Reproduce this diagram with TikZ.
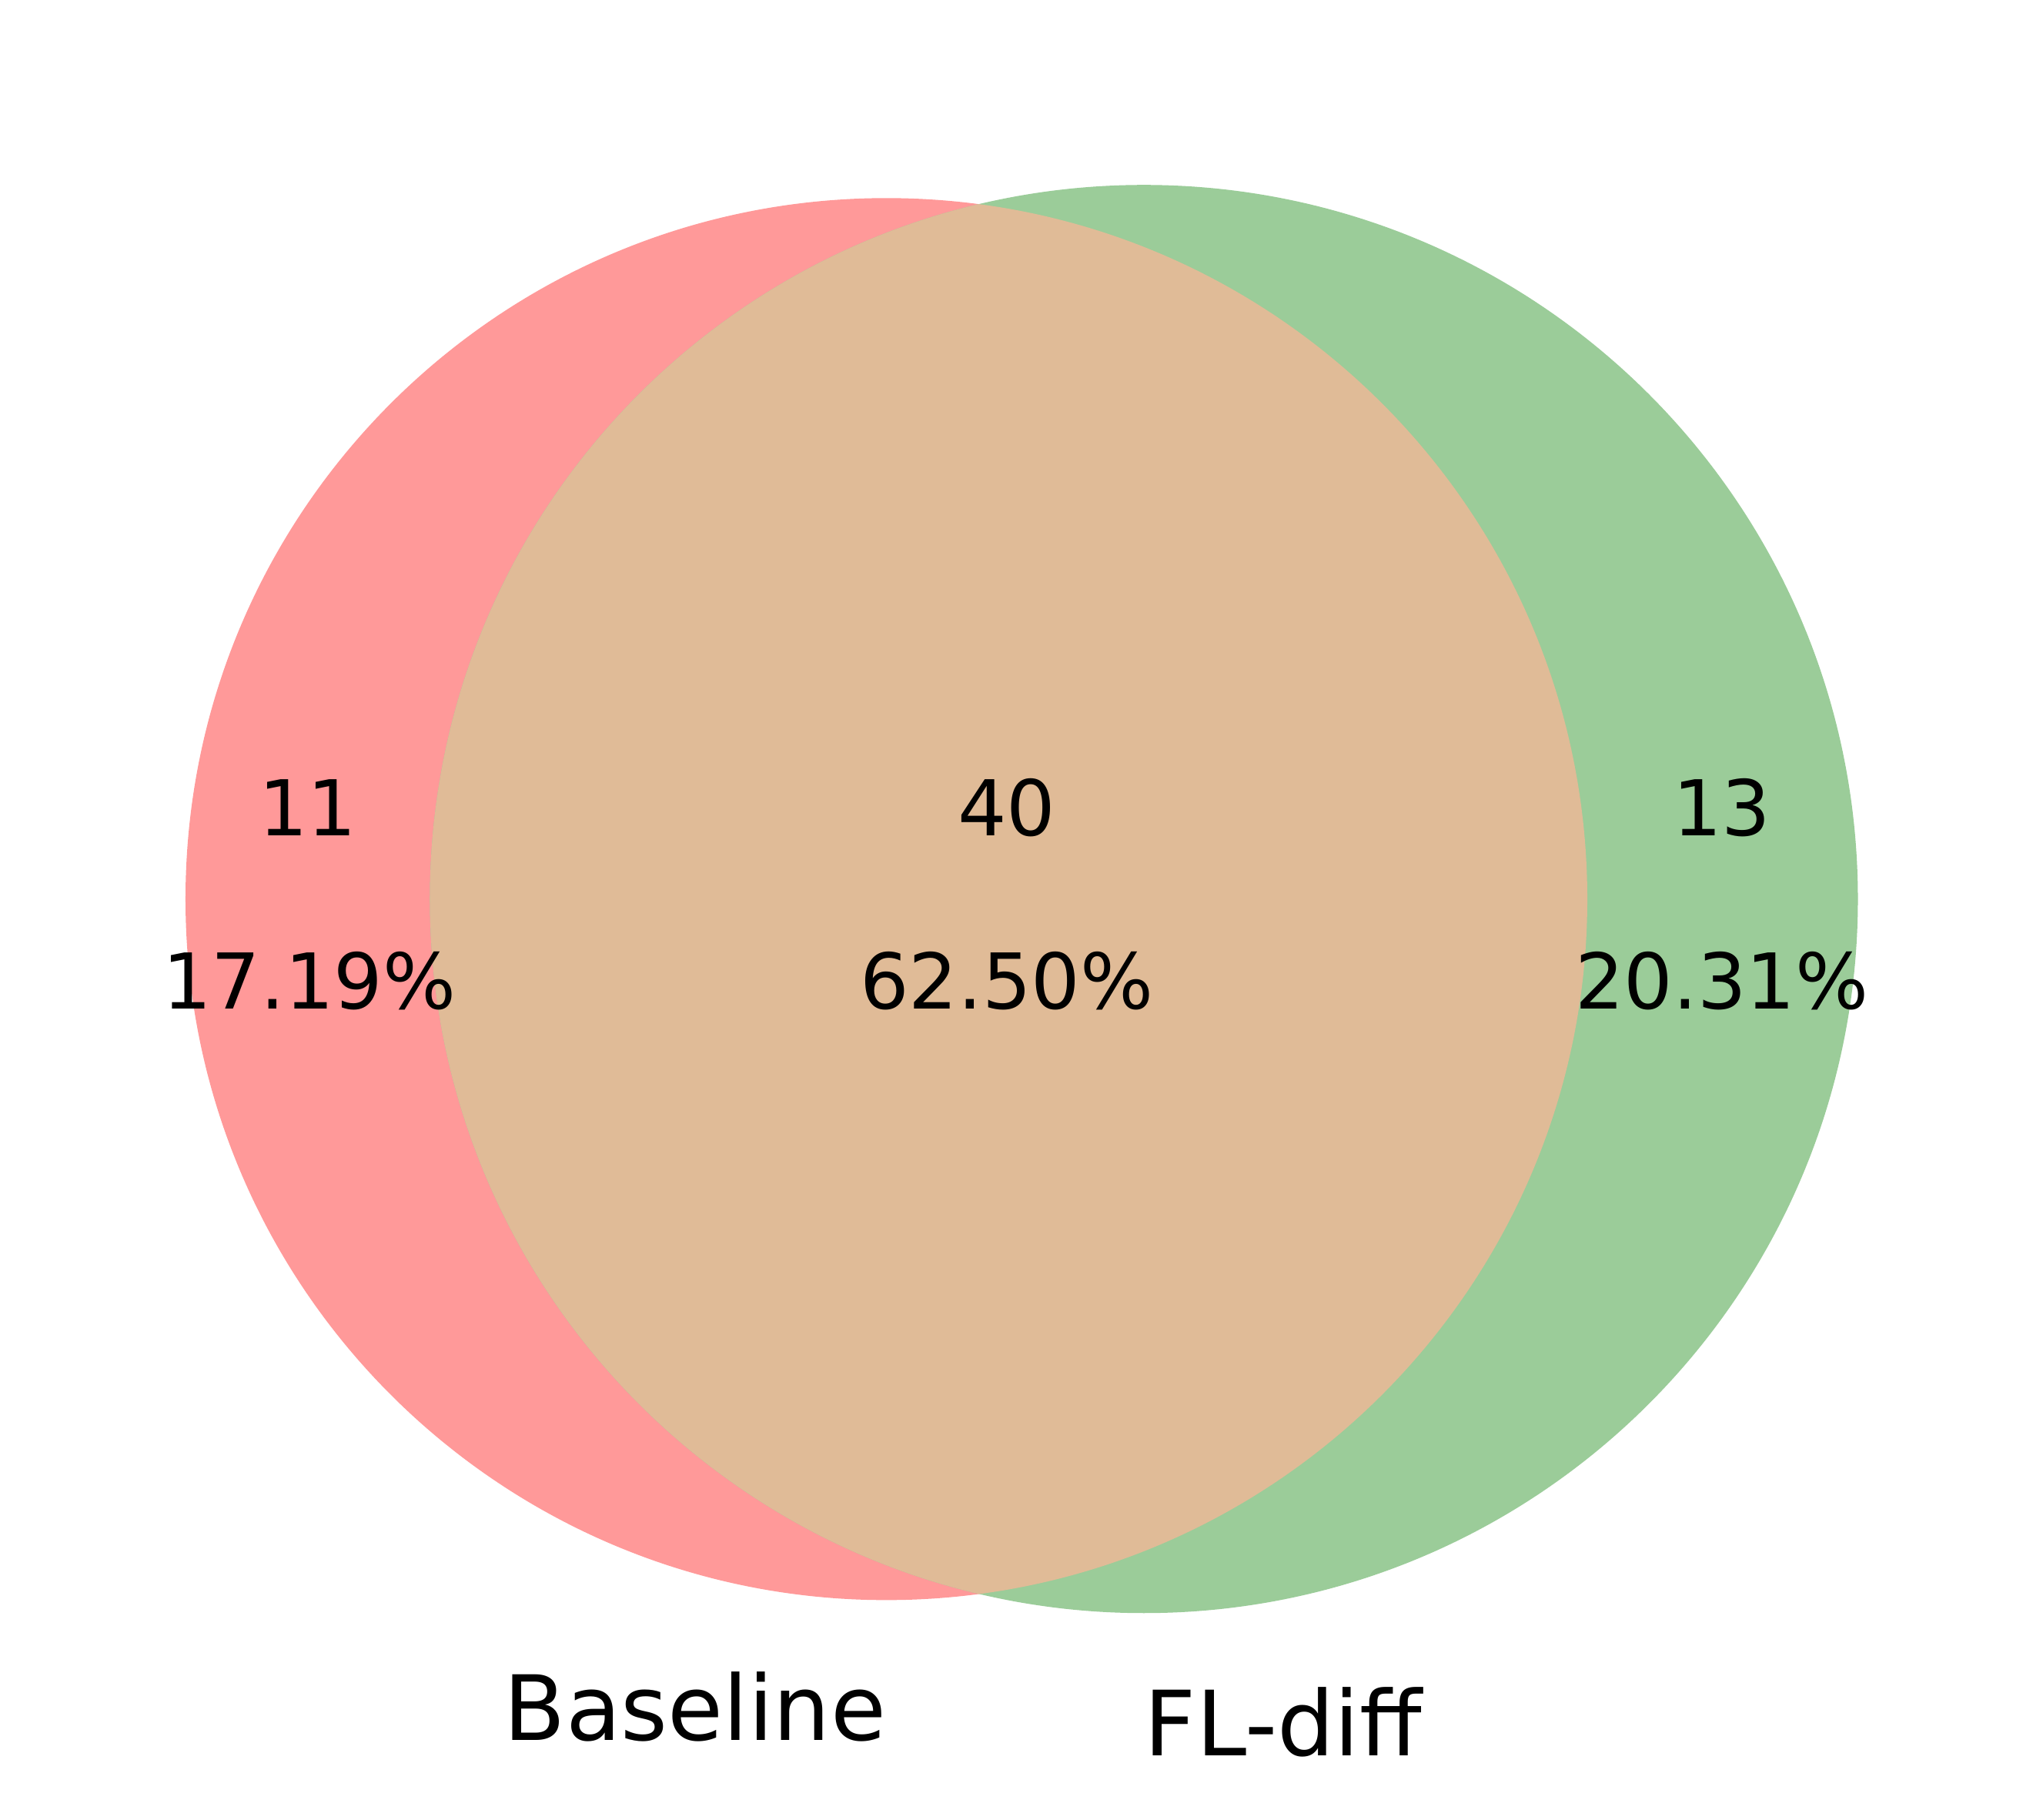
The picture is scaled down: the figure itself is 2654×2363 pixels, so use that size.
\documentclass[tikz,border=0pt]{standalone}
\usepackage{fontspec}
\setmainfont{DejaVu Sans}
\definecolor{setA}{RGB}{255,153,153}
\definecolor{setB}{RGB}{155,204,153}
\definecolor{setAB}{RGB}{224,187,151}
\tikzset{
  num/.style={font=\fontsize{20pt}{24pt}\selectfont, inner sep=0pt, anchor=base},
  setlabel/.style={font=\fontsize{23.4pt}{28pt}\selectfont, inner sep=0pt, anchor=base}
}
\begin{document}
\begin{tikzpicture}[x=0.2pt,y=-0.2pt]
\useasboundingbox[fill=white] (0,0) rectangle (2654,2363);
\coordinate (cA) at (1151.5,1167.8);
\coordinate (cB) at (1486,1167.7);
\fill[setA] (cA) circle [radius=182.1pt];
\fill[setB] (cB) circle [radius=185.5pt];
\begin{scope}
\clip (cA) circle [radius=182.1pt];
\fill[setAB] (cB) circle [radius=185.5pt];
\end{scope}
\node[num] (a1) at (400,1085) {11};
\node[num] (a2) at (402,1310) {17.19\%};
\node[num] (m1) at (1308,1085) {40};
\node[num] (m2) at (1308,1310) {62.50\%};
\node[num] (b1) at (2237,1085) {13};
\node[num] (b2) at (2237,1310) {20.31\%};
\node[setlabel] (la) at (903,2260.7) {Baseline};
\node[setlabel] (lb) at (1667,2280) {FL-diff};
\end{tikzpicture}
\end{document}
